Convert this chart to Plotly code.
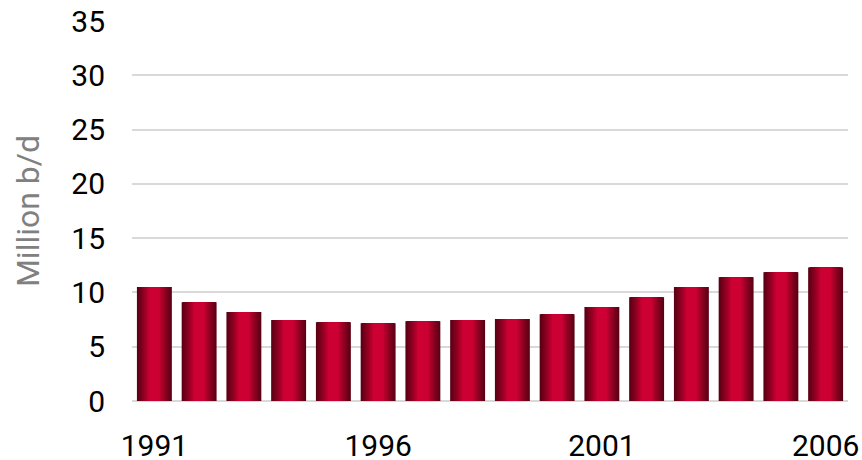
import plotly.graph_objects as go

years = list(range(1991, 2007))
values = [10.5, 9.1, 8.2, 7.45, 7.25, 7.15, 7.35, 7.45, 7.55, 8.0, 8.65, 9.55, 10.5, 11.4, 11.85, 12.3]
tick_years = [1991, 1996, 2001, 2006]
y_ticks = [0, 5, 10, 15, 20, 25, 30, 35]

dark = (90, 0, 20)
bright = (204, 0, 51)
bar_w = 0.78
n_layers = 18

fig = go.Figure()
for k in range(n_layers):
    f = 1.0 - k * (0.70 / (n_layers - 1))  # width fraction, 1.0 -> 0.30
    t = (f - 0.30) / 0.70                  # 1 at edge, 0 in centre
    t = t ** 0.85
    c = tuple(int(round(bright[i] * (1 - t) + dark[i] * t)) for i in range(3))
    fig.add_trace(go.Bar(
        x=years, y=values, width=bar_w * f,
        marker=dict(color=f"rgb{c}", line=dict(width=0)),
        hoverinfo="skip" if k else "x+y", showlegend=False,
    ))

fig.update_layout(
    width=862, height=460,
    margin=dict(l=132, r=14, t=21, b=59),
    barmode="overlay",
    plot_bgcolor="white", paper_bgcolor="white",
    font=dict(family="Roboto, Arial, sans-serif", size=30, color="black"),
    showlegend=False,
)
fig.update_xaxes(
    range=[1990.5, 2006.5], tickvals=tick_years, ticktext=[str(v) for v in tick_years],
    showgrid=False, zeroline=False, showline=False,
    ticks="outside", ticklen=18, tickcolor="rgba(0,0,0,0)",
    automargin=False,
)
fig.update_yaxes(
    range=[0, 35], tickvals=y_ticks, showgrid=True, gridcolor="#d9d9d9", gridwidth=1.5,
    zeroline=True, zerolinecolor="#d9d9d9", zerolinewidth=1.5, showline=False,
    ticks="outside", ticklen=20, tickcolor="rgba(0,0,0,0)",
    title=dict(text="Million b/d", font=dict(color="#808080", size=32), standoff=22),
    automargin=False,
)
fig.write_html(
    "out.html",
    config={"displayModeBar": False},
    post_script="document.body.style.margin='0';document.body.style.overflow='hidden';",
)
